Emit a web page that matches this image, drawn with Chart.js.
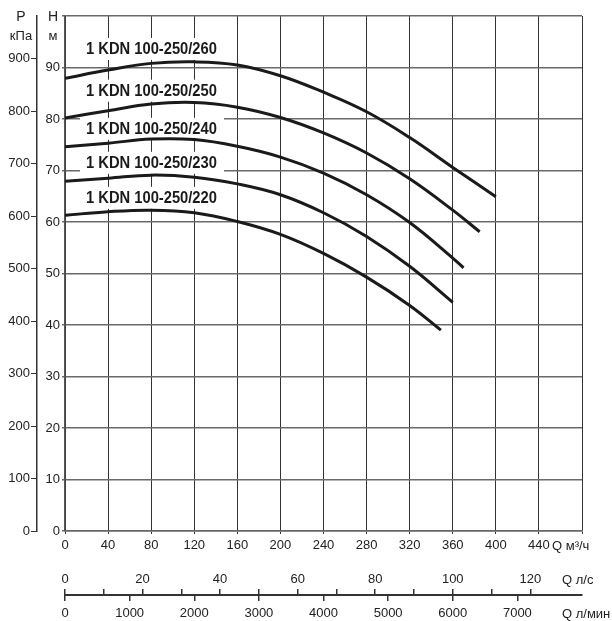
<!DOCTYPE html>
<html>
<head>
<meta charset="utf-8">
<script src="https://cdn.jsdelivr.net/npm/chart.js@4/dist/chart.umd.min.js"></script>
<style>
html,body{margin:0;padding:0;background:#fff;}
#c{display:block;}
</style>
</head>
<body>
<canvas id="c" width="612" height="621"></canvas>
<script>
// ---- data ----
const curveNames = ['1 KDN 100-250/260','1 KDN 100-250/250','1 KDN 100-250/240','1 KDN 100-250/230','1 KDN 100-250/220'];
const q260 = [0,40,80,120,160,200,240,280,320,360,400];
const h260 = [87.9,89.5,90.8,91.1,90.5,88.4,85.2,81.4,76.4,70.6,64.9];
const q250 = [0,40,80,120,160,200,240,280,320,360,385];
const h250 = [80.2,81.6,82.9,83.2,82.3,80.3,77.3,73.4,68.4,62.3,58.1];
const q240 = [0,40,80,120,160,200,240,280,320,360,370];
const h240 = [74.6,75.3,76.1,76.0,74.7,72.6,69.5,65.3,59.9,53.0,51.1];
const q230 = [0,40,80,120,160,200,240,280,320,360];
const h230 = [67.9,68.5,69.1,68.7,67.4,65.3,61.8,57.2,51.4,44.4];
const q220 = [0,40,80,120,160,200,240,280,320,349];
const h220 = [61.3,62.0,62.3,61.8,60.1,57.6,53.9,49.3,43.8,39.0];
const labelH = [93.6,85.5,78.1,71.5,64.7];   // vertical position of each curve label (m)
const labelQ = 19.5;                         // left edge of labels (m3/h)

const qTicks = [0,40,80,120,160,200,240,280,320,360,400,440,480];
const hTicks = [0,10,20,30,40,50,60,70,80,90,100];
const pTicks = [0,100,200,300,400,500,600,700,800,900];
const lsTicks = [0,10,20,30,40,50,60,70,80,90,100,110,120];
const lminTicks = [0,1000,2000,3000,4000,5000,6000,7000];
const qMax = 480, hMax = 100;
const pMax = hMax * 9.81;       // kPa equivalent of 100 m
const lsMax = qMax / 3.6;       // l/s
const lminMax = qMax / 0.06;    // l/min

const series = [[q260,h260],[q250,h250],[q240,h240],[q230,h230],[q220,h220]];

Chart.defaults.font.family = '"Liberation Sans", Arial, Helvetica, sans-serif';
Chart.defaults.font.size = 13;
Chart.defaults.color = '#222';

const textPlugin = {
  id: 'texts',
  beforeDatasetsDraw(chart) {
    const {ctx, scales: {x, y}} = chart;
    ctx.save();
    curveNames.forEach((name, i) => {
      const py = y.getPixelForValue(labelH[i]);
      const px = x.getPixelForValue(labelQ);
      ctx.fillStyle = '#fff';
      ctx.fillRect(px - 6, py - 11, 144, 22);
      ctx.translate(px, py);
      ctx.scale(0.92, 1);
      ctx.font = 'bold 16px "Liberation Sans", Arial, sans-serif';
      ctx.fillStyle = '#1a1a1a';
      ctx.textAlign = 'left';
      ctx.textBaseline = 'middle';
      ctx.fillText(name, 0, 1);
      ctx.setTransform(1, 0, 0, 1, 0, 0);
    });
    ctx.restore();
  },
  afterDraw(chart) {
    const {ctx, scales: {x, y, p}} = chart;
    ctx.save();
    ctx.fillStyle = '#222';
    ctx.textBaseline = 'middle';
    ctx.textAlign = 'center';
    ctx.font = '14px "Liberation Sans", Arial, sans-serif';
    ctx.fillText('P', p.right - 16, 17);
    ctx.fillText('H', y.right - 12, 17);
    ctx.font = '13px "Liberation Sans", Arial, sans-serif';
    ctx.fillText('кПа', p.right - 16, 36);
    ctx.fillText('м', y.right - 12, 36);
    ctx.textAlign = 'left';
    ctx.fillText('Q м³/ч', x.right - 30, 546);
    ctx.fillText('Q л/с', x.right - 20, 580);
    ctx.fillText('Q л/мин', x.right - 20, 614);
    ctx.restore();
  }
};

new Chart(document.getElementById('c'), {
  type: 'line',
  data: {
    datasets: series.map((s, i) => ({
      label: curveNames[i],
      data: s[0].map((q, j) => ({x: q, y: s[1][j]})),
      borderColor: '#1a1a1a',
      borderWidth: 3,
      pointRadius: 0,
      tension: 0.4,
      fill: false,
      xAxisID: 'x',
      yAxisID: 'y'
    }))
  },
  options: {
    responsive: false,
    animation: false,
    layout: {padding: {top: 16, right: 30, left: 0, bottom: 0}},
    plugins: {legend: {display: false}, tooltip: {enabled: false}},
    scales: {
      x: {
        type: 'linear', position: 'bottom', weight: 0,
        min: 0, max: qMax,
        afterBuildTicks: s => { s.ticks = qTicks.map(v => ({value: v})); },
        afterFit: s => { s.height = 58; },
        ticks: {autoSkip: false, maxRotation: 0, padding: 4,
          callback: v => v === qMax ? '' : String(v)},
        grid: {color: '#333', lineWidth: 1, tickLength: 3},
        border: {display: true, color: '#666', width: 1.5}
      },
      x2: {
        type: 'linear', position: 'bottom', weight: 1,
        min: 0, max: lsMax,
        afterBuildTicks: s => { s.ticks = lsTicks.map(v => ({value: v})); },
        afterFit: s => { s.height = 6; },
        ticks: {autoSkip: false, maxRotation: 0, mirror: true, padding: 1.5,
          callback: v => v % 20 === 0 ? String(v) : ''},
        grid: {drawOnChartArea: false, color: '#333', lineWidth: 1.5, tickLength: 6},
        border: {display: false}
      },
      x3: {
        type: 'linear', position: 'bottom', weight: 2,
        min: 0, max: lminMax,
        afterBuildTicks: s => { s.ticks = lminTicks.map(v => ({value: v})); },
        afterFit: s => { s.height = 26; },
        ticks: {autoSkip: false, maxRotation: 0, padding: 5, callback: v => String(v)},
        grid: {drawOnChartArea: false, color: '#333', lineWidth: 1.5, tickLength: 6},
        border: {display: true, color: '#333', width: 2}
      },
      y: {
        type: 'linear', position: 'left', weight: 0,
        min: 0, max: hMax,
        afterBuildTicks: s => { s.ticks = hTicks.map(v => ({value: v})); },
        afterFit: s => { s.width = 28; },
        ticks: {padding: 2, callback: v => v === hMax ? '' : String(v)},
        grid: {color: '#6a6a6a', lineWidth: 1.5, tickLength: 3},
        border: {display: true, color: '#555', width: 1.5}
      },
      p: {
        type: 'linear', position: 'left', weight: 1,
        min: 0, max: pMax,
        afterBuildTicks: s => { s.ticks = pTicks.map(v => ({value: v})); },
        afterFit: s => { s.width = 37; },
        ticks: {padding: 1, callback: v => String(v)},
        grid: {drawOnChartArea: false, color: '#333', lineWidth: 1, tickLength: 6},
        border: {display: true, color: '#333', width: 1.5}
      }
    }
  },
  plugins: [textPlugin]
});
</script>
</body>
</html>
